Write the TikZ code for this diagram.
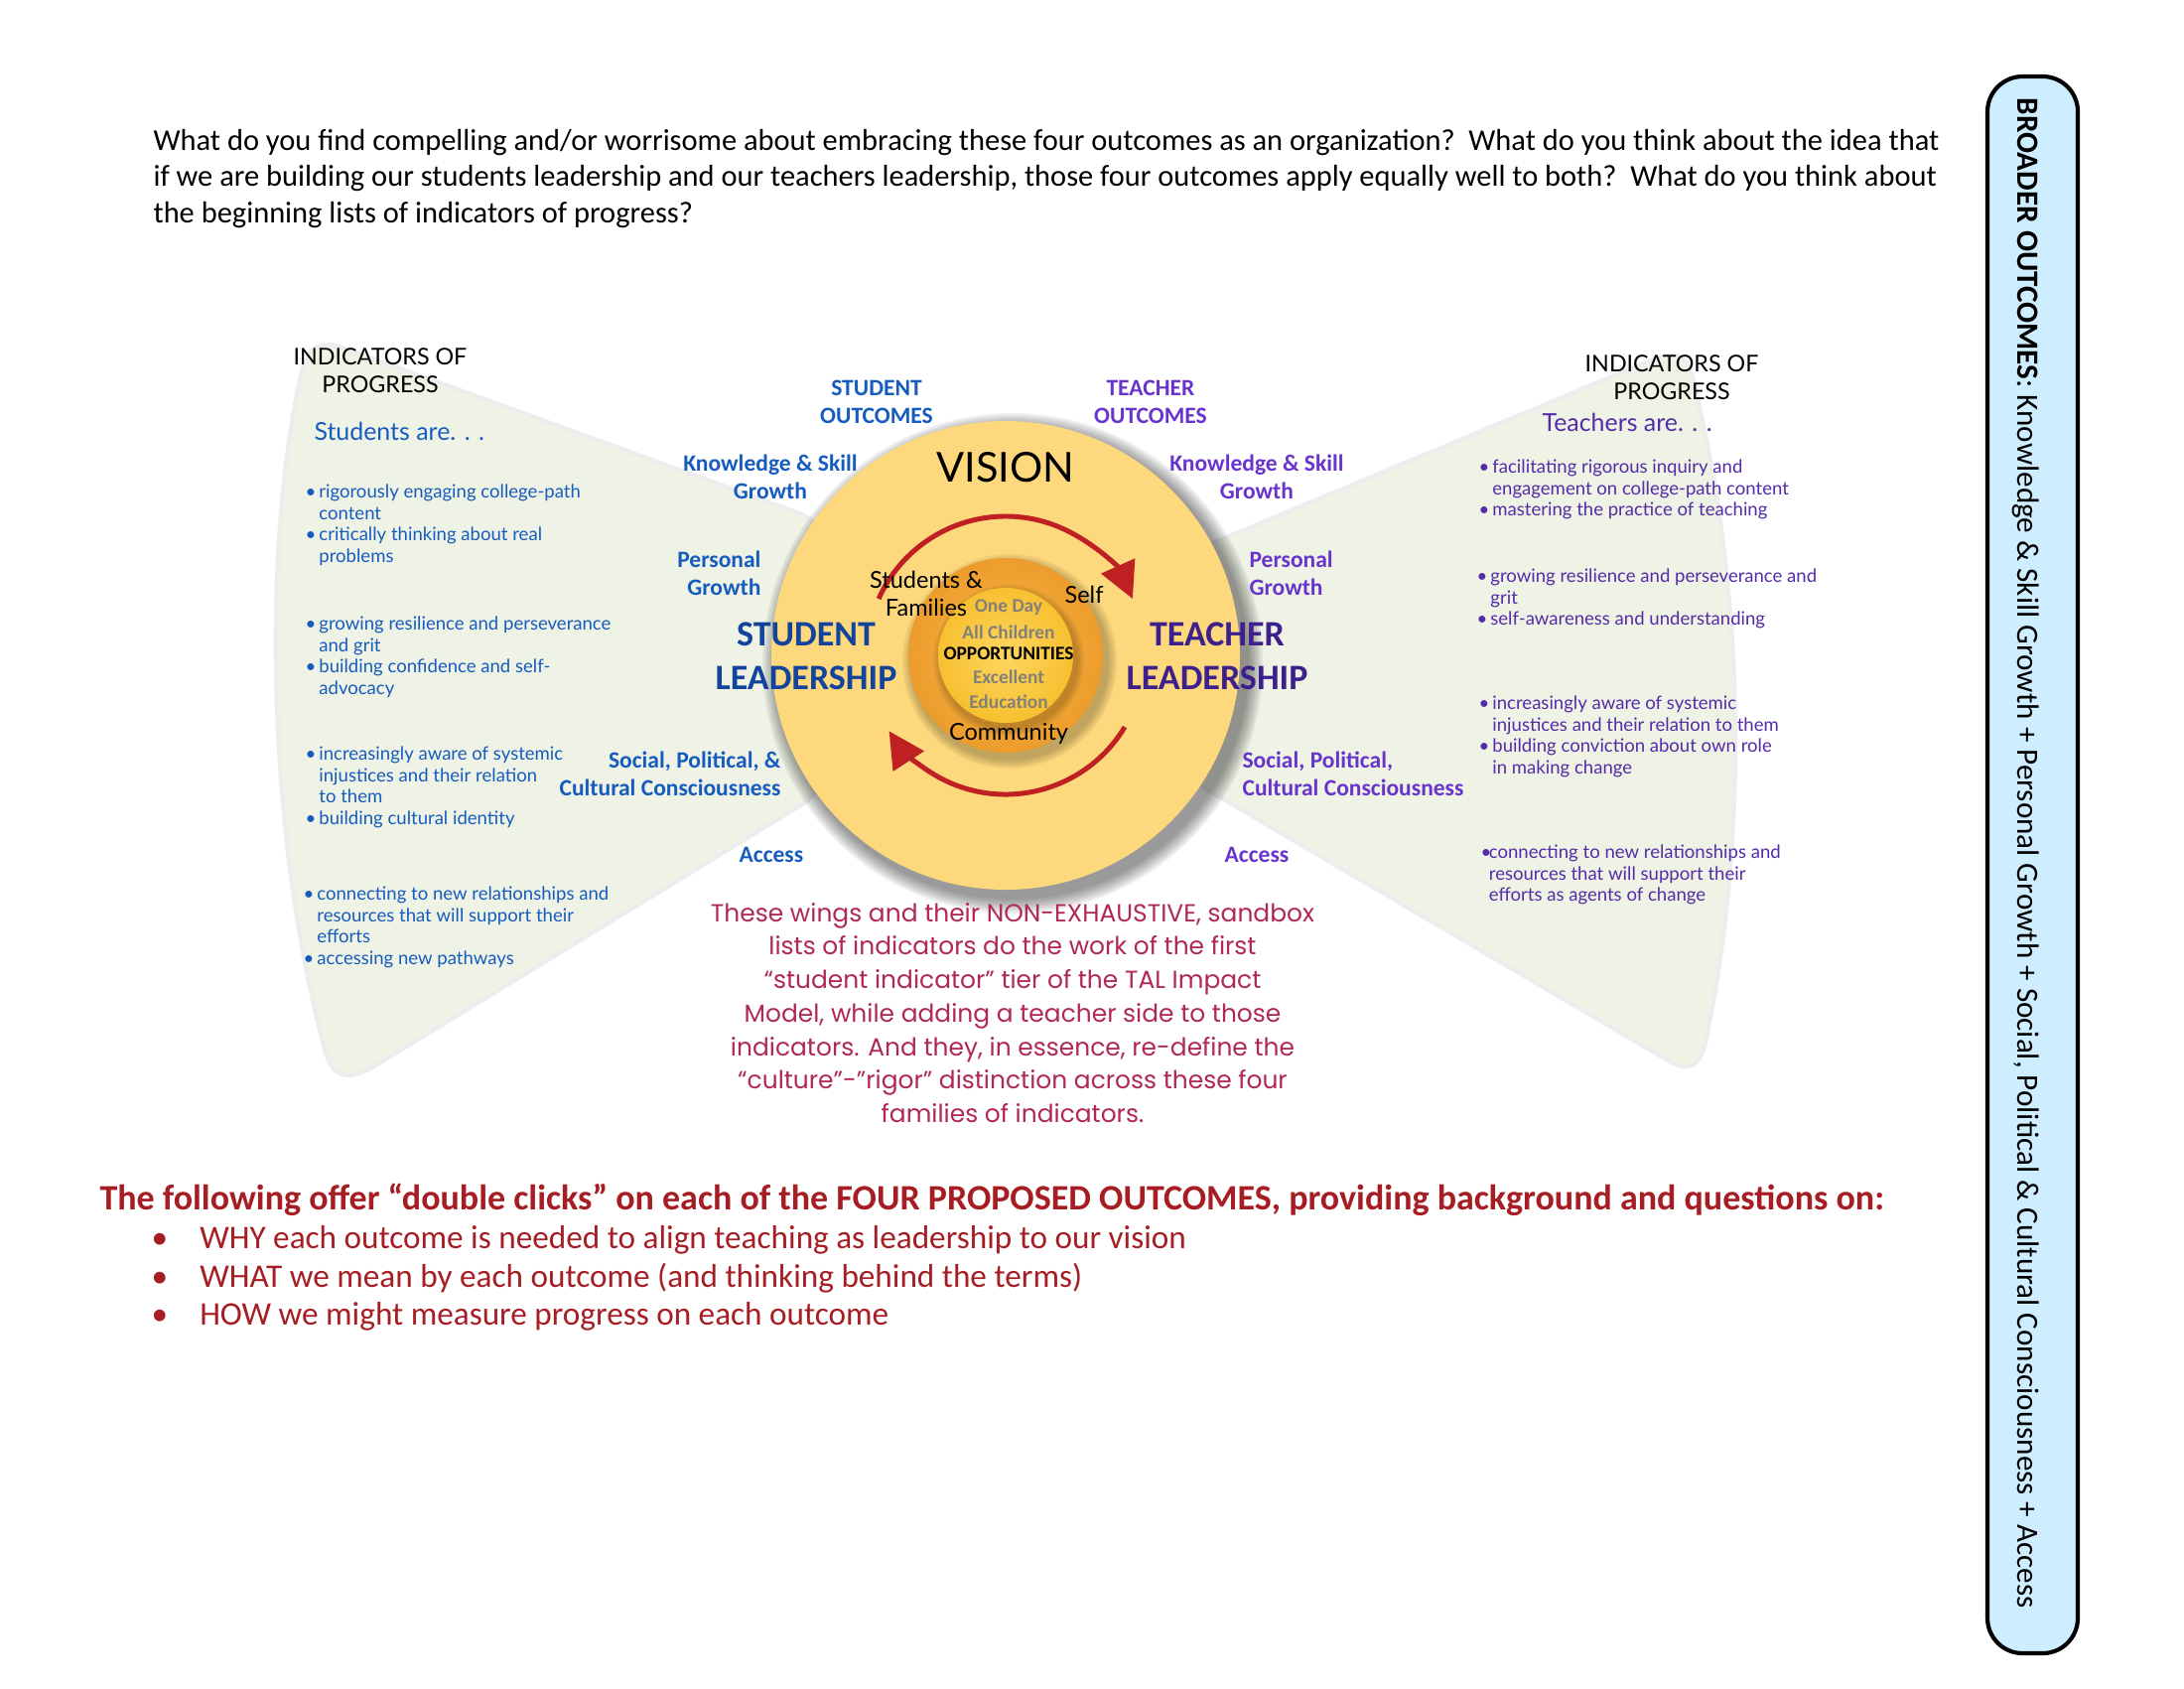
\documentclass[tikz,border=0pt]{standalone}
\usepackage{fontspec}
\setmainfont{Carlito}
\newfontfamily\gill{Lato}
\newfontfamily\hand{Poppins}
\usepackage{tikz}
\usetikzlibrary{arrows.meta,positioning,calc}
\definecolor{stublue}{RGB}{22,92,190}
\definecolor{studark}{RGB}{18,68,158}
\definecolor{teapurple}{RGB}{104,52,204}
\definecolor{teadark}{RGB}{62,32,140}
\definecolor{tealist}{RGB}{84,44,168}
\definecolor{wingfill}{RGB}{238,243,230}
\definecolor{visionfill}{RGB}{253,216,124}
\definecolor{ringlight}{RGB}{250,186,72}
\definecolor{ringdark}{RGB}{236,156,44}
\definecolor{corelight}{RGB}{253,214,96}
\definecolor{coredark}{RGB}{247,192,48}
\definecolor{arrowred}{RGB}{190,32,36}
\definecolor{handred}{RGB}{176,40,84}
\definecolor{deepred}{RGB}{166,30,36}
\definecolor{boxcyan}{RGB}{206,238,255}
\definecolor{coregray}{RGB}{130,128,120}
\newcommand{\bl}{\makebox[5pt][l]{\textbullet}}
\newcommand{\ind}{\hspace*{5pt}}
\tikzset{
  wing/.style    ={fill=wingfill,draw=black!7,line width=1.5pt},
  slab/.style    ={font=\bfseries\fontsize{8.5}{10}\selectfont,text=stublue,align=center,inner sep=0pt},
  tlab/.style    ={slab,text=teapurple},
  slead/.style   ={font=\bfseries\fontsize{13}{15.7}\selectfont,text=studark,align=center,inner sep=0pt},
  tlead/.style   ={slead,text=teadark},
  ring/.style    ={font=\gill\fontsize{8.5}{10}\selectfont,align=center,inner sep=0pt},
  core/.style    ={font=\bfseries\fontsize{7}{8}\selectfont,text=coregray,inner sep=0pt},
  indic/.style   ={font=\gill\fontsize{8.4}{10}\selectfont,align=center,inner sep=0pt},
  slist/.style   ={font=\gill\fontsize{6.7}{7.9}\selectfont,text=stublue,align=left,anchor=north west,inner sep=0pt},
  tlist/.style   ={slist,text=tealist},
  cycarrow/.style={-{Triangle[length=4.6mm,width=4.6mm]},line width=1.8pt,arrowred},
  redline/.style ={font=\fontsize{12}{14}\selectfont,text=deepred,anchor=west,inner sep=0pt},
}
\begin{document}
\begin{tikzpicture}[x=0.0127cm,y=-0.0127cm]
  \useasboundingbox (0,0) rectangle (2200,1700);
  \fill[white] (0,0) rectangle (2200,1700);
  % question at the top
  \node[anchor=north west,inner sep=0pt,align=left,font=\fontsize{11}{13.1}\selectfont] (quest) at (154,130)
    {What do you find compelling and/or worrisome about embracing these four outcomes as an organization?\ \ What do you think about the idea that\\
     if we are building our students leadership and our teachers leadership, those four outcomes apply equally well to both?\ \ What do you think about\\
     the beginning lists of indicators of progress?};
  % wings
  \path[wing] (345,350) -- (800,515) .. controls (830,526) and (840,545) .. (838,570)
    -- (835,760) .. controls (834,785) and (825,800) .. (805,812) -- (380,1072)
    .. controls (350,1090) and (335,1085) .. (328,1060)
    .. controls (270,850) and (262,550) .. (305,370)
    .. controls (312,348) and (325,343) .. cycle;
  \path[wing] (1190,560) -- (1665,362) .. controls (1690,352) and (1700,360) .. (1705,380)
    .. controls (1760,600) and (1760,850) .. (1718,1050)
    .. controls (1712,1075) and (1700,1080) .. (1680,1068) -- (1190,780) -- cycle;
  % vision circle with shadow
  \coordinate (c) at (1013,660);
  \foreach \k in {1,...,8}
    \fill[black,opacity=0.06] ($(c)+(7,8)$) circle [radius=236+2*\k];
  \fill[visionfill] (c) circle [radius=236];
  % ring and core
  \foreach \k in {1,...,5}
    \fill[black,opacity=0.05] ($(c)+(4,6)$) circle [radius=98+2*\k];
  \shade[inner color=ringlight,outer color=ringdark] (c) circle [radius=98];
  \foreach \k in {1,...,4}
    \fill[black,opacity=0.05] ($(c)+(3,5)$) circle [radius=68+2*\k];
  \shade[inner color=corelight,outer color=coredark] (c) circle [radius=68];
  % cycle arrows
  \draw[cycarrow] ($(c)+(-156:140)$) arc [start angle=-156,end angle=-24,radius=140];
  \draw[cycarrow] ($(c)+(31:140)$) arc [start angle=31,end angle=147,radius=140];
  % circle texts
  \node[font=\gill\fontsize{15}{17}\selectfont,inner sep=0pt] (vision) at (1013,471) {VISION};
  \node[ring] (famil) at (933,598) {Students \&\\Families};
  \node[ring] (self) at (1092,599) {Self};
  \node[core] (oneday) at (1016,612) {One Day};
  \node[core] (allch) at (1016,637) {All Children};
  \node[core,text=black] (oppor) at (1016,658) {OPPORTUNITIES};
  \node[core] (excel) at (1016,682) {Excellent};
  \node[core] (educ) at (1016,707) {Education};
  \node[ring] (commu) at (1016,739) {Community};
  % student side
  \node[slab] (souts) at (883,405) {STUDENT\\OUTCOMES};
  \node[slab] (sknow) at (776,480) {Knowledge \& Skill\\Growth};
  \node[slab,align=right,anchor=east] (spers) at (767,577) {Personal\\Growth};
  \node[slead] (slead) at (812,661) {STUDENT\\LEADERSHIP};
  \node[slab,align=right,anchor=east] (ssoc) at (787,779) {Social, Political, \&\\Cultural Consciousness};
  \node[slab] (sacc) at (777,861) {Access};
  % teacher side
  \node[tlab] (touts) at (1159,405) {TEACHER\\OUTCOMES};
  \node[tlab] (tknow) at (1266,480) {Knowledge \& Skill\\Growth};
  \node[tlab,align=left,anchor=west] (tpers) at (1258,577) {Personal\\Growth};
  \node[tlead] (tlead) at (1226,661) {TEACHER\\LEADERSHIP};
  \node[tlab,align=left,anchor=west] (tsoc) at (1251,779) {Social, Political,\\Cultural Consciousness};
  \node[tlab] (tacc) at (1266,861) {Access};
  % left wing indicators
  \node[indic] (sind) at (383,373) {INDICATORS OF\\PROGRESS};
  \node[font=\gill\fontsize{9}{11}\selectfont,text=stublue,anchor=west,inner sep=0pt] (sare) at (316,434) {Students are. . .};
  \node[slist] (sgrpa) at (307,487) {\bl rigorously engaging college-path\\\ind content\\\bl critically thinking about real\\\ind problems};
  \node[slist] (sgrpb) at (307,620) {\bl growing resilience and perseverance\\\ind and grit\\\bl building confidence and self-\\\ind advocacy};
  \node[slist] (sgrpc) at (307,751) {\bl increasingly aware of systemic\\\ind injustices and their relation\\\ind to them\\\bl building cultural identity};
  \node[slist] (sgrpd) at (305,892) {\bl connecting to new relationships and\\\ind resources that will support their\\\ind efforts\\\bl accessing new pathways};
  % right wing indicators
  \node[indic] (tind) at (1684,380) {INDICATORS OF\\PROGRESS};
  \node[font=\gill\fontsize{9}{11}\selectfont,text=tealist,anchor=west,inner sep=0pt] (tare) at (1553,425) {Teachers are. . .};
  \node[tlist] (tgrpa) at (1489,462) {\bl facilitating rigorous inquiry and\\\ind engagement on college-path content\\\bl mastering the practice of teaching};
  \node[tlist] (tgrpb) at (1487,572) {\bl growing resilience and perseverance and\\\ind grit\\\bl self-awareness and understanding};
  \node[tlist] (tgrpc) at (1489,700) {\bl increasingly aware of systemic\\\ind injustices and their relation to them\\\bl building conviction about own role\\\ind in making change};
  \node[tlist] (tgrpd) at (1491,850) {\makebox[3pt][l]{\textbullet}connecting to new relationships and\\\hspace*{3pt}resources that will support their\\\hspace*{3pt}efforts as agents of change};
  % note under the circle
  \node[font=\hand\fontsize{9}{12.2}\selectfont,text=handred,align=center,inner sep=0pt] (note) at (1020,1020)
    {These wings and their NON-EXHAUSTIVE, sandbox\\lists of indicators do the work of the first\\“student indicator” tier of the TAL Impact\\Model, while adding a teacher side to those\\indicators. And they, in essence, re-define the\\“culture”-”rigor” distinction across these four\\families of indicators.};
  % double clicks
  \node[redline,font=\bfseries\fontsize{13}{16}\selectfont] (follow) at (100,1208)
    {The following offer “double clicks” on each of the FOUR PROPOSED OUTCOMES, providing background and questions on:};
  \node[redline] (why) at (152,1249) {\makebox[17.6pt][l]{\textbullet}WHY each outcome is needed to align teaching as leadership to our vision};
  \node[redline] (what) at (152,1287) {\makebox[17.6pt][l]{\textbullet}WHAT we mean by each outcome (and thinking behind the terms)};
  \node[redline] (how) at (152,1326) {\makebox[17.6pt][l]{\textbullet}HOW we might measure progress on each outcome};
  % broader outcomes bar
  \draw[fill=boxcyan,line width=1.5pt,rounded corners=0.45cm] (2002,77) rectangle (2093,1665);
  \node[anchor=west,rotate=-90,inner sep=0pt,font=\fontsize{11.25}{13}\selectfont] (broad) at (2041,98)
    {\textbf{BROADER OUTCOMES}: Knowledge \& Skill Growth + Personal Growth + Social, Political \& Cultural Consciousness + Access};
\end{tikzpicture}
\end{document}
